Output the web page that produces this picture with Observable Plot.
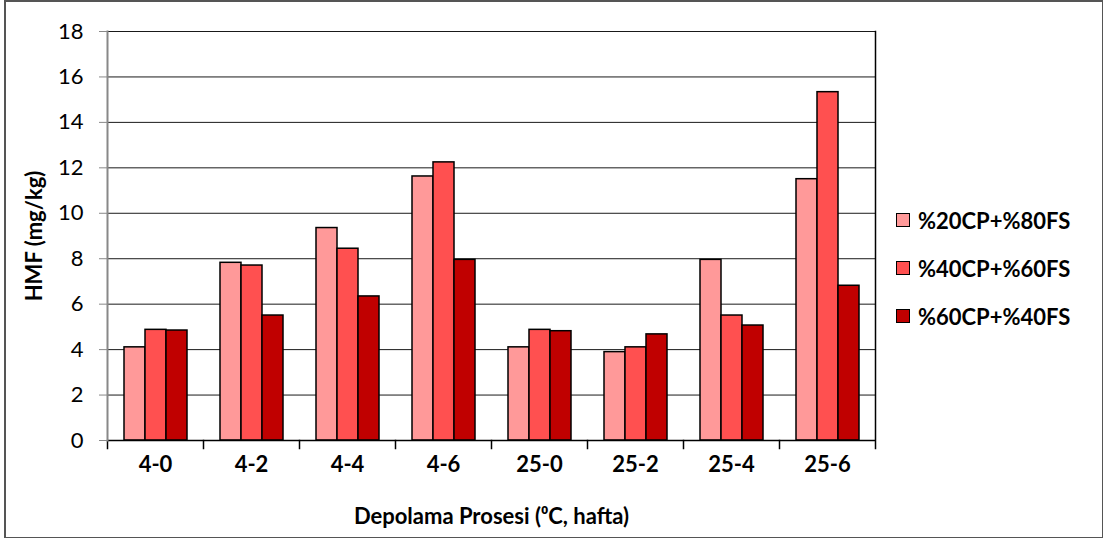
<!DOCTYPE html>
<html>
<head>
<meta charset="utf-8">
<script src="https://cdn.jsdelivr.net/npm/d3@7"></script>
<script src="https://cdn.jsdelivr.net/npm/@observablehq/plot@0.6"></script>
<style>
  html, body { margin: 0; padding: 0; background: #fff; }
  #wrap { position: relative; width: 1103px; height: 538px; overflow: hidden; font-family: Lato, "Open Sans", sans-serif; }
  #border { position: absolute; left: 4px; top: 0px; width: 1096px; height: 535px; border: 2px solid #555; pointer-events: none; }
  #legend { position: absolute; left: 896px; top: 208px; }
  .item { display: flex; align-items: center; height: 24px; margin-bottom: 24px; font-weight: bold; font-size: 22px; color: #000; }
  .sw { width: 12px; height: 12px; border: 1.5px solid #000; margin-right: 8px; }
</style>
</head>
<body>
<div id="wrap"><div id="chart"></div><div id="legend"></div><div id="border"></div></div>
<script>
const categories = ["4-0", "4-2", "4-4", "4-6", "25-0", "25-2", "25-4", "25-6"];
const series = ["%20CP+%80FS", "%40CP+%60FS", "%60CP+%40FS"];
const s20 = [4.10, 7.82, 9.35, 11.62, 4.10, 3.89, 7.95, 11.50];
const s40 = [4.87, 7.70, 8.44, 12.24, 4.87, 4.10, 5.50, 15.33];
const s60 = [4.84, 5.50, 6.34, 7.95, 4.81, 4.67, 5.06, 6.81];
const colors = ["#FF9999", "#FF5050", "#C00000"];
const yTicks = [0, 2, 4, 6, 8, 10, 12, 14, 16, 18];
const xTitle = "Depolama Prosesi (\u2070C, hafta)";
const yTitle = "HMF (mg/kg)";

const values = [s20, s40, s60];
const data = [];
categories.forEach((c, i) => series.forEach((s, j) => data.push({cat: c, series: s, value: values[j][i]})));

const chart = Plot.plot({
  width: 1103,
  height: 538,
  marginLeft: 105,
  marginRight: 227,
  marginTop: 31,
  marginBottom: 98,
  style: {fontFamily: "Lato, 'Open Sans', sans-serif", background: "transparent", color: "#000"},
  fx: {domain: categories, padding: 0},
  x: {domain: series, paddingInner: 0, paddingOuter: 0.72, axis: null},
  y: {domain: [0, 18]},
  color: {domain: series, range: colors},
  marks: [
    Plot.gridY(yTicks, {stroke: "#000", strokeOpacity: 0.9, strokeWidth: 1}),
    Plot.barY(data, {fx: "cat", x: "series", y: "value", fill: "series", stroke: "#000", strokeWidth: 1.5}),
    Plot.ruleY([0], {stroke: "#000", strokeWidth: 1.5}),
    Plot.frame({anchor: "left", insetTop: 409, insetBottom: -8, stroke: "#000", strokeWidth: 1.5}),
    Plot.frame({anchor: "right", facetAnchor: "right", stroke: "#000", strokeWidth: 1.5, insetBottom: -8}),
    Plot.frame({anchor: "left", facetAnchor: "left", stroke: "#888", strokeWidth: 2}),
    Plot.axisY({ticks: yTicks, tickSize: 8, tickPadding: 16, stroke: "#888", fontSize: 22, label: yTitle, labelArrow: "none", labelAnchor: "center", labelOffset: 81}),
    Plot.axisFx({anchor: "bottom", tickSize: 0, tickPadding: 16, fontSize: 22, fontWeight: "bold", label: xTitle, labelArrow: "none", labelAnchor: "center", labelOffset: 83})
  ]
});
document.getElementById("chart").appendChild(chart);

// bold axis titles (strip any auto arrow)
chart.querySelectorAll("text").forEach(t => {
  const s = t.textContent.replace(/\s*[\u2192\u2190\u2191\u2193]\s*/g, "");
  if (s === yTitle || s === xTitle) {
    if (s !== t.textContent) t.textContent = s;
    t.setAttribute("font-weight", "bold");
  }
});

const legend = document.getElementById("legend");
series.forEach((s, j) => {
  const it = document.createElement("div");
  it.className = "item";
  const sw = document.createElement("div");
  sw.className = "sw";
  sw.style.background = colors[j];
  it.appendChild(sw);
  it.appendChild(document.createTextNode(s));
  legend.appendChild(it);
});
</script>
</body>
</html>
